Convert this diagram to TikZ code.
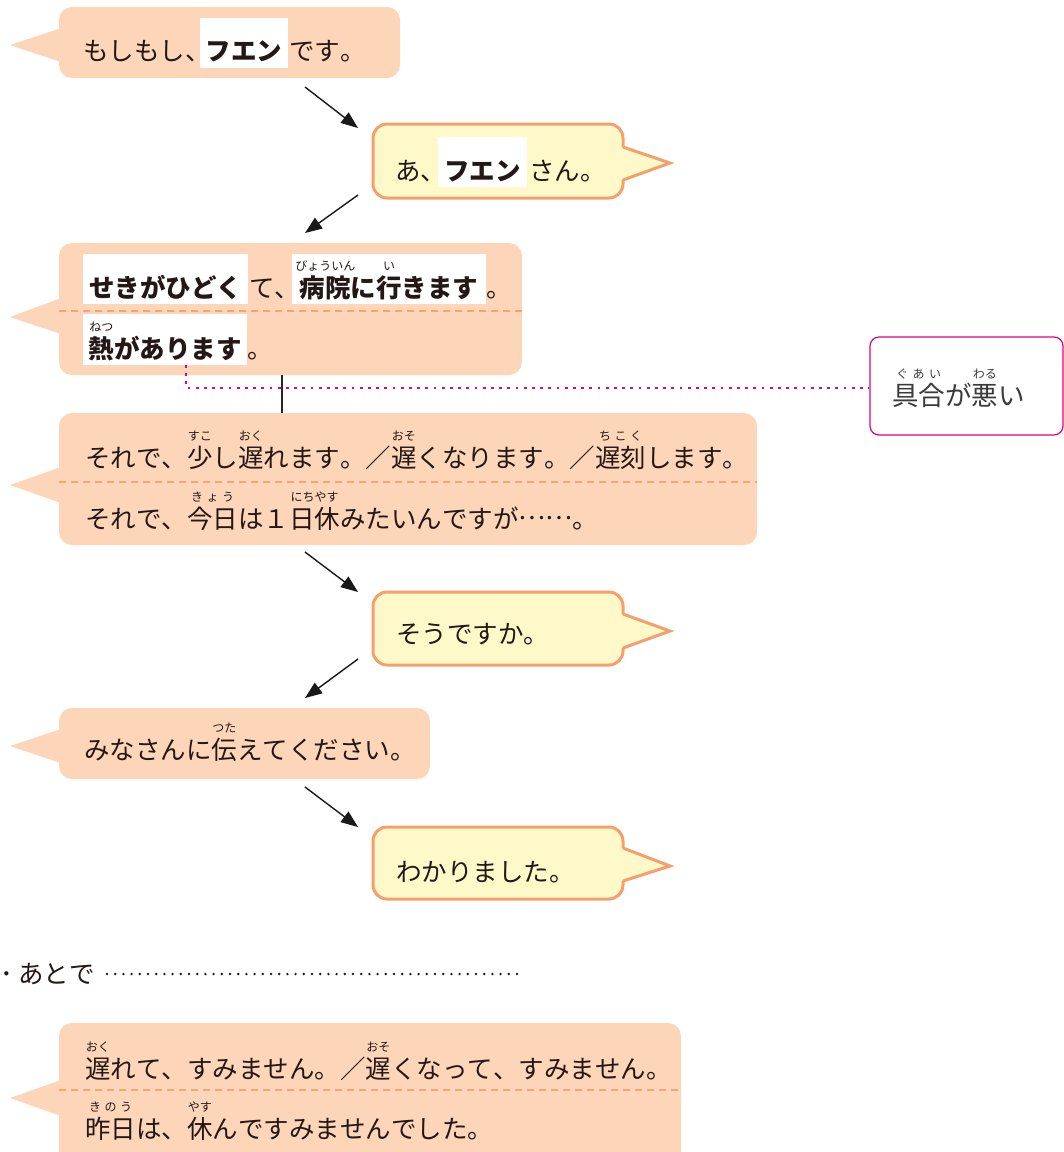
\documentclass[tikz,border=0pt]{standalone}
\usepackage{fontspec}
\setmainfont{Noto Sans CJK JP}[Kerning=Off]
\usetikzlibrary{arrows.meta,fit}
\definecolor{peach}{HTML}{FDD5B8}
\definecolor{lemon}{HTML}{FFF9CA}
\definecolor{orng}{HTML}{F5A06C}
\definecolor{dashc}{HTML}{F8A46E}
\definecolor{pinkc}{HTML}{E4007F}
\definecolor{textc}{HTML}{231815}
\definecolor{graytxt}{HTML}{3A3A3A}
\newsavebox\rubybox
\newcommand\rubyfont{\mdseries\fontsize{12}{12}\selectfont}
\newcommand\rb[2]{\sbox\rubybox{#1}\makebox[0pt][l]{\raisebox{27pt}[0pt][0pt]{\makebox[\wd\rubybox][c]{\rubyfont #2}}}\usebox\rubybox}
\newcommand\rbs[2]{\sbox\rubybox{#1}\makebox[0pt][l]{\raisebox{27pt}[0pt][0pt]{\makebox[\wd\rubybox][c]{\makebox[\dimexpr\wd\rubybox-8pt\relax][s]{\rubyfont #2}}}}\usebox\rubybox}
\newcommand\fwell{\raisebox{0.32em}{……}}
\tikzset{
 pbody/.style={fill=peach, draw=none, rounded corners=13pt, inner sep=0pt},
 ybody/.style={fill=lemon, draw=orng, line width=3pt, rounded corners=14pt, inner sep=0pt},
 wbox/.style={fill=white, draw=none, inner sep=0pt},
 txt/.style={inner sep=0pt, anchor=base west, text=textc, font=\fontsize{25.5}{30}\selectfont},
 ctxt/.style={txt, anchor=base},
 dashline/.style={draw=dashc, line width=2.5pt, dash pattern=on 7pt off 5pt},
 flowarrow/.style={draw=black!90, line width=1.4pt, -{Triangle[length=17pt,width=13pt]}},
 pinkdots/.style={draw=pinkc, line width=2.8pt, dash pattern=on 2.8pt off 5.4pt},
 leaderdots/.style={draw=textc, line width=2.7pt, line cap=round, dash pattern=on 0pt off 8.2pt},
 notebox/.style={draw=pinkc, line width=1.2pt, rounded corners=9pt, inner sep=0pt, fill=white},
}
\begin{document}
\begin{tikzpicture}[x=1pt,y=-1pt]
\useasboundingbox (0,0) rectangle (1064,1152);

% ---------- bubble 1 ----------
\node[pbody, fit={(59,7) (400,78)}] (b1) {};
\fill[peach] (61,28) -- (10,45) -- (61,62) -- cycle;
\node[wbox, fit={(200,18) (288,68)}] (w1) {};
\node[txt] (t1a) at (83,60) {もしもし、};
\node[ctxt] (t1b) at (244,60) {\bfseries フエン};
\node[txt] (t1c) at (289,60) {です。};

% ---------- bubble 2 ----------
\node[ybody, fit={(373,124) (623,198)}] (b2) {};
\fill[lemon] (621,147) -- (670,163) -- (621,180) -- cycle;
\draw[orng, line width=3pt, line join=miter] (623,147) -- (670,163) -- (623,180);
\node[wbox, fit={(438,137) (527,187)}] (w2) {};
\node[txt] (t2a) at (395,180) {あ、};
\node[ctxt] (t2b) at (482.5,180) {\bfseries フエン};
\node[txt] (t2c) at (529,180) {さん。};

% ---------- bubble 3 ----------
\node[pbody, fit={(59,243) (522,375)}] (b3) {};
\fill[peach] (61,298) -- (10,317) -- (61,334) -- cycle;
\draw[dashline] (59,311) -- (522,311);
\node[wbox, fit={(83,254) (248,304)}] (w3a) {};
\node[wbox, fit={(292,254) (486,304)}] (w3b) {};
\node[wbox, fit={(83,314) (247,365)}] (w3c) {};
\node[ctxt] (t3a) at (165.5,297) {\bfseries せきがひどく};
\node[txt] (t3b) at (249,297) {て、};
\node[ctxt] (t3c) at (389,297) {\bfseries \rb{病院}{びょういん}に\rb{行}{い}きます};
\node[txt] (t3d) at (486,297) {。};
\node[ctxt] (t3e) at (165,358) {\bfseries \rb{熱}{ねつ}があります};
\node[txt] (t3f) at (247,358) {。};

% ---------- note box ----------
\node[notebox, fit={(870,337) (1063,435)}] (pk) {};
\node[txt, text=graytxt, font=\fontsize{26.5}{30}\selectfont] (pkt) at (892,405) {\rbs{具合}{ぐ\hfill あ\hfill い}が\rb{悪}{わる}い};
\coordinate (pd) at (186,365);

% ---------- bubble 4 ----------
\node[pbody, fit={(59,413) (757,545)}] (b4) {};
\fill[peach] (61,467) -- (10,485) -- (61,503) -- cycle;
\draw[dashline] (59,482) -- (757,482);
\node[txt] (t4a) at (85,467) {それで、\rb{少}{すこ}し\rb{遅}{おく}れます。／\rb{遅}{おそ}くなります。／\rbs{遅刻}{ち\hfill こ\hfill く}します。};
\node[txt] (t4b) at (85,528) {それで、\rbs{今日}{き\hfill ょ\hfill う}は１\rb{日休}{にちやす}みたいんですが\fwell。};

% connectors between bubble 3 / note / bubble 4
\coordinate (vx) at (282,0);
\draw[line width=1.2pt, draw=black!85] (b3.south -| vx) -- (b4.north -| vx);
\draw[pinkdots] (pd) |- ([yshift=-2pt]pk.west);

% ---------- bubble 5 ----------
\node[ybody, fit={(373,592) (623,665)}] (b5) {};
\fill[lemon] (621,614) -- (670,631) -- (621,648) -- cycle;
\draw[orng, line width=3pt, line join=miter] (623,614) -- (670,631) -- (623,648);
\node[txt] (t5) at (396,643) {そうですか。};

% ---------- bubble 6 ----------
\node[pbody, fit={(59,708) (430,779)}] (b6) {};
\fill[peach] (61,729) -- (10,746) -- (61,763) -- cycle;
\node[txt] (t6) at (84,759) {みなさんに\rb{伝}{つた}えてください。};

% ---------- bubble 7 ----------
\node[ybody, fit={(373,827) (623,899)}] (b7) {};
\fill[lemon] (621,848) -- (670,866) -- (621,881) -- cycle;
\draw[orng, line width=3pt, line join=miter] (623,848) -- (670,866) -- (623,881);
\node[txt] (t7) at (396,881) {わかりました。};

% ---------- arrows ----------
\coordinate (a1s) at (305,87);  \coordinate (a1e) at (358,128);
\coordinate (a2s) at (358,195); \coordinate (a2e) at (305,233);
\coordinate (a3s) at (305,552); \coordinate (a3e) at (358,592);
\coordinate (a4s) at (358,659); \coordinate (a4e) at (305,698);
\coordinate (a5s) at (305,787); \coordinate (a5e) at (358,827);
\draw[flowarrow] (a1s) -- (a1e);
\draw[flowarrow] (a2s) -- (a2e);
\draw[flowarrow] (a3s) -- (a3e);
\draw[flowarrow] (a4s) -- (a4e);
\draw[flowarrow] (a5s) -- (a5e);

% ---------- after ----------
\node[txt] (ato) at (0.5,983) {･\hspace{5pt}あとで};
\coordinate (ld1) at (107,974);
\coordinate (ld2) at (518,974);
\draw[leaderdots] (ld1) -- (ld2);

% ---------- bubble 8 ----------
\node[pbody, fit={(59,1023) (681,1168)}] (b8) {};
\fill[peach] (61,1080) -- (10,1098) -- (61,1116) -- cycle;
\draw[dashline] (59,1090) -- (681,1090);
\node[txt] (t8a) at (85,1078) {\rb{遅}{おく}れて、すみません。／\rb{遅}{おそ}くなって、すみません。};
\node[txt] (t8b) at (85,1138) {\rbs{昨日}{き\hfill の\hfill う}は、\rb{休}{やす}んですみませんでした。};
\end{tikzpicture}
\end{document}
